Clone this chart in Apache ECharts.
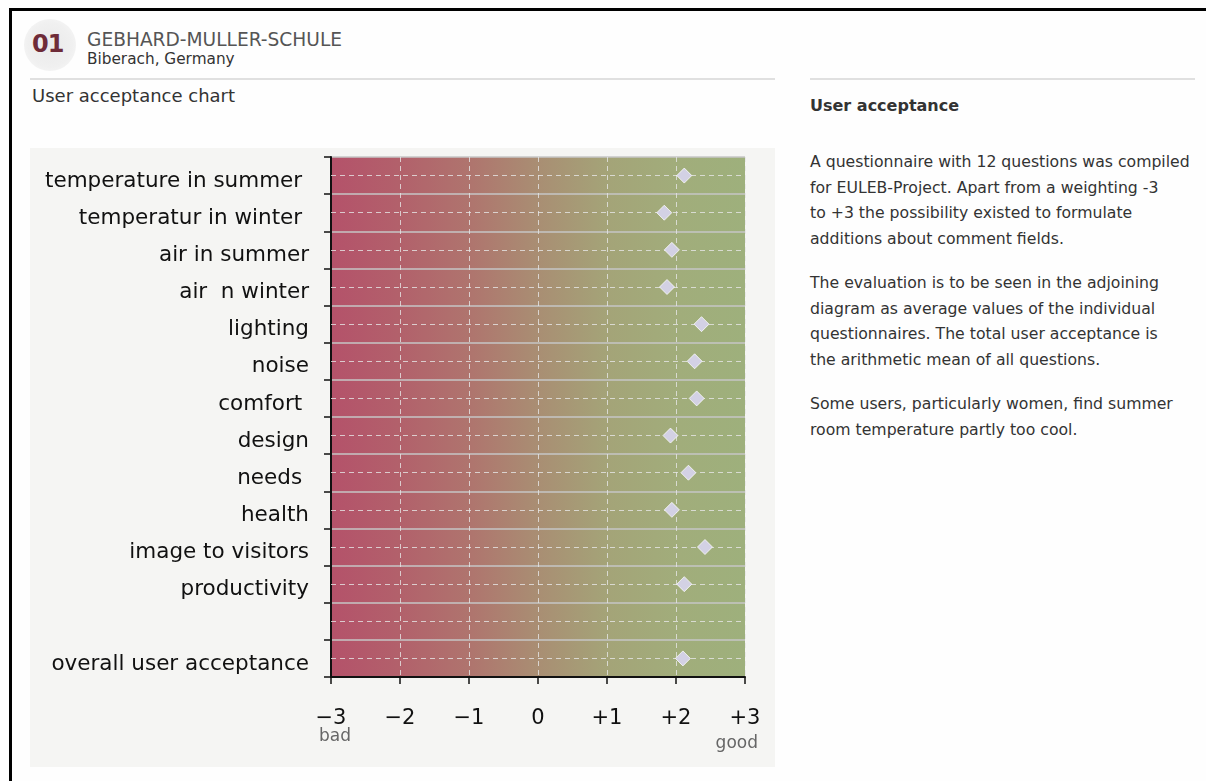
<!DOCTYPE html>
<html>
<head>
<meta charset="utf-8">
<script src="https://cdn.jsdelivr.net/npm/echarts@6/dist/echarts.min.js"></script>
<style>
  html, body { margin:0; padding:0; background:#fefefe; }
  body { width:1206px; height:781px; position:relative; overflow:hidden; font-family:"DejaVu Sans", Verdana, sans-serif; }
  .frameTop { position:absolute; left:9px; top:8px; width:1197px; height:3px; background:#000; }
  .frameLeft { position:absolute; left:9px; top:8px; width:3px; height:773px; background:#000; }
  .badge { position:absolute; left:24px; top:19px; width:52px; height:52px; border-radius:50%;
           background:radial-gradient(circle, #eaeaea 0%, #f0f0f0 60%, #fbfbfb 100%); }
  .num { position:absolute; left:32px; top:30px; font-size:24px; font-weight:bold; color:#6e2b38; letter-spacing:-1px; }
  .title { position:absolute; left:87px; top:29px; font-size:18.6px; color:#555; white-space:nowrap; }
  .sub { position:absolute; left:87px; top:50px; font-size:15.3px; color:#333; white-space:nowrap; }
  .rule1 { position:absolute; left:30px; top:78px; width:745px; height:2px; background:#e0e0e0; }
  .rule2 { position:absolute; left:810px; top:78px; width:385px; height:2px; background:#e0e0e0; }
  .ctitle { position:absolute; left:32px; top:85px; font-size:18px; color:#333; white-space:nowrap; }
  #chart { position:absolute; left:30px; top:148px; width:745px; height:619px; background:#f5f5f3; }
  .rtitle { position:absolute; left:810px; top:96px; font-size:16px; font-weight:bold; color:#333; white-space:nowrap; }
  .rtext { position:absolute; left:810px; font-size:15.7px; line-height:25.7px; color:#333; white-space:nowrap; }
</style>
</head>
<body>
<div class="frameTop"></div>
<div class="frameLeft"></div>
<div class="badge"></div>
<div class="num">01</div>
<div class="title">GEBHARD-MULLER-SCHULE</div>
<div class="sub">Biberach, Germany</div>
<div class="rule1"></div>
<div class="rule2"></div>
<div class="ctitle">User acceptance chart</div>
<div id="chart"></div>
<div class="rtitle">User acceptance</div>
<div class="rtext" style="top:149px">A questionnaire with 12 questions was compiled<br>for EULEB-Project. Apart from a weighting -3<br>to +3 the possibility existed to formulate<br>additions about comment fields.</div>
<div class="rtext" style="top:270px">The evaluation is to be seen in the adjoining<br>diagram as average values of the individual<br>questionnaires. The total user acceptance is<br>the arithmetic mean of all questions.</div>
<div class="rtext" style="top:391px">Some users, particularly women, find summer<br>room temperature partly too cool.</div>
<script>
// ---- data ----
const categories = [
  'temperature in summer ',
  'temperatur in winter ',
  'air in summer',
  'air  n winter',
  'lighting',
  'noise',
  'comfort ',
  'design',
  'needs ',
  'health',
  'image to visitors',
  'productivity',
  ' ',
  'overall user acceptance'
];
const scoreCategories = [
  'temperature in summer ', 'temperatur in winter ', 'air in summer', 'air  n winter',
  'lighting', 'noise', 'comfort ', 'design', 'needs ', 'health', 'image to visitors',
  'productivity', 'overall user acceptance'
];
const scores = [2.12, 1.83, 1.94, 1.87, 2.37, 2.27, 2.30, 1.92, 2.18, 1.94, 2.42, 2.12, 2.10];
const tickValues = [-3, -2, -1, 0, 1, 2, 3];
const tickLabels = ['\u22123', '\u22122', '\u22121', '0', '+1', '+2', '+3'];
const endLabels = ['bad', 'good'];

const chart = echarts.init(document.getElementById('chart'), null, {renderer:'canvas'});
const FONT = '"DejaVu Sans", Verdana, sans-serif';
const gridTop = 9, gridH = 520;

chart.setOption({
  animation: false,
  grid: {
    left: 301, top: gridTop, width: 414, height: gridH,
    show: true, borderWidth: 0,
    backgroundColor: {
      type: 'linear', x: 0, y: 0, x2: 1, y2: 0,
      colorStops: [
        {offset: 0, color: '#b4526a'},
        {offset: 0.17, color: '#b2616b'},
        {offset: 0.34, color: '#af756e'},
        {offset: 0.5, color: '#a98e73'},
        {offset: 0.67, color: '#a4a478'},
        {offset: 0.84, color: '#a1ad7b'},
        {offset: 1, color: '#9eb07c'}
      ]
    }
  },
  xAxis: {
    type: 'value', min: -3, max: 3, interval: 1,
    axisLine: {show: true, onZero: false, lineStyle: {color: '#111', width: 2}},
    axisTick: {show: true, length: 7, lineStyle: {color: '#111', width: 1.5}},
    splitLine: {show: true, lineStyle: {color: 'rgba(230,230,230,0.8)', type: [5, 4], width: 1}},
    axisLabel: {
      margin: 31, fontSize: 21, color: '#111', fontFamily: FONT,
      formatter: v => tickLabels[tickValues.indexOf(Math.round(v))]
    }
  },
  yAxis: {
    type: 'category', data: categories, inverse: true, boundaryGap: true,
    axisLine: {show: true, onZero: false, lineStyle: {color: '#111', width: 2}},
    axisTick: {show: true, length: 7, alignWithLabel: false, lineStyle: {color: '#111', width: 1.5}},
    splitLine: {show: true, lineStyle: {color: '#c6c6c6', width: 1.5}},
    axisLabel: {margin: 22, fontSize: 21.5, color: '#111', fontFamily: FONT, verticalAlign: 'top', lineHeight: 11}
  },
  series: [
    {
      type: 'scatter', data: [], z: 1, silent: true,
      markLine: {
        silent: true, symbol: 'none', animation: false,
        label: {show: false},
        lineStyle: {color: 'rgba(230,230,230,0.8)', type: [5, 4], width: 1},
        data: categories.map((c, i) => ({yAxis: i}))
      }
    },
    {
      type: 'scatter', z: 5,
      symbol: 'diamond', symbolSize: 15,
      itemStyle: {color: '#d3d1e4', borderColor: 'rgba(255,255,255,0.75)', borderWidth: 1, opacity: 1},
      data: scores.map((v, i) => [v, scoreCategories[i]])
    }
  ]
});

const xLeft = chart.convertToPixel({xAxisIndex: 0}, tickValues[0]);
const xRight = chart.convertToPixel({xAxisIndex: 0}, tickValues[tickValues.length - 1]);
const axisY = gridTop + gridH;
chart.setOption({
  graphic: [
    {type: 'text', left: xLeft - 12, top: axisY + 51,
     style: {text: endLabels[0], fontSize: 17, fill: '#666', fontFamily: FONT}},
    {type: 'text', right: 745 - xRight - 13, top: axisY + 58,
     style: {text: endLabels[1], fontSize: 17, fill: '#666', fontFamily: FONT}}
  ]
});
</script>
</body>
</html>
